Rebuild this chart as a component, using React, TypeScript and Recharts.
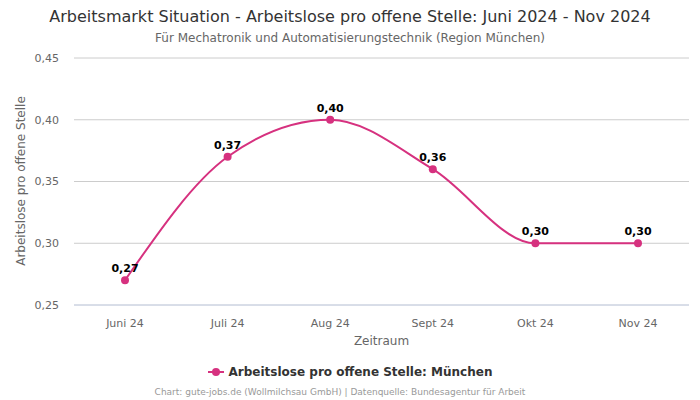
import React from 'react';
import { LineChart, Line, XAxis, YAxis, CartesianGrid, LabelList } from 'recharts';

const months = ['Juni 24', 'Juli 24', 'Aug 24', 'Sept 24', 'Okt 24', 'Nov 24'];
const values = [0.27, 0.37, 0.4, 0.36, 0.3, 0.3];
const yTicks = [0.25, 0.3, 0.35, 0.4, 0.45];

const data = months.map((m, i) => ({ month: m, value: values[i] }));

const COLOR = '#d6317f';
const FONT = '"DejaVu Sans", sans-serif';
const fmt = (v: number) => v.toFixed(2).replace('.', ',');

export default function App() {
  return (
    <div style={{ position: 'absolute', left: 0, top: 0, width: 700, height: 400, background: '#fff', fontFamily: FONT }}>
      <div style={{ position: 'absolute', top: 7, left: 0, width: 700, textAlign: 'center', fontSize: 16, color: '#333' }}>
        Arbeitsmarkt Situation - Arbeitslose pro offene Stelle: Juni 2024 - Nov 2024
      </div>
      <div style={{ position: 'absolute', top: 31, left: 0, width: 700, textAlign: 'center', fontSize: 12, color: '#666' }}>
        Für Mechatronik und Automatisierungstechnik (Region München)
      </div>
      <div style={{ position: 'absolute', left: 21, top: 181, width: 0, height: 0 }}>
        <div style={{ position: 'absolute', transform: 'translate(-50%, -50%) rotate(-90deg)', whiteSpace: 'nowrap', fontSize: 12, color: '#666' }}>
          Arbeitslose pro offene Stelle
        </div>
      </div>
      <div style={{ position: 'absolute', top: 334, left: 74, width: 615, textAlign: 'center', fontSize: 12, color: '#666' }}>
        Zeitraum
      </div>
      <div style={{ position: 'absolute', top: 365, left: 0, width: 700, display: 'flex', justifyContent: 'center', alignItems: 'center' }}>
        <svg width={16} height={10} style={{ marginRight: 5 }}>
          <line x1={0} y1={5} x2={16} y2={5} stroke={COLOR} strokeWidth={2} />
          <circle cx={8} cy={5} r={4} fill={COLOR} />
        </svg>
        <span style={{ fontSize: 12, fontWeight: 'bold', color: '#333' }}>Arbeitslose pro offene Stelle: München</span>
      </div>
      <div style={{ position: 'absolute', top: 387, left: 0, width: 680, textAlign: 'center', fontSize: 9, color: '#999' }}>
        Chart: gute-jobs.de (Wollmilchsau GmbH) | Datenquelle: Bundesagentur für Arbeit
      </div>
      <div style={{ position: 'absolute', left: 0, top: 0 }}>
        <LineChart width={700} height={400} data={data} margin={{ top: 58, right: 11, left: 0, bottom: 65 }}>
          <CartesianGrid vertical={false} stroke="#cccccc" />
          <XAxis
            dataKey="month"
            padding={{ left: 51, right: 51 }}
            axisLine={{ stroke: '#ccd6eb' }}
            tickLine={false}
            tick={{ fill: '#666', fontSize: 11, fontFamily: FONT }}
            tickMargin={8}
            height={30}
          />
          <YAxis
            domain={[0.25, 0.45]}
            ticks={yTicks}
            tickFormatter={fmt}
            axisLine={false}
            tickLine={false}
            tickMargin={9}
            width={74}
            tick={{ fill: '#666', fontSize: 11, fontFamily: FONT }}
          />
          <Line
            type="monotone"
            dataKey="value"
            stroke={COLOR}
            strokeWidth={2}
            dot={{ r: 4, fill: COLOR, stroke: 'none' }}
            activeDot={false}
            isAnimationActive={false}
          >
            <LabelList
              dataKey="value"
              position="top"
              offset={8}
              formatter={(v: number) => fmt(v)}
              style={{ fontSize: 11, fontWeight: 'bold', fill: '#000', fontFamily: FONT }}
            />
          </Line>
        </LineChart>
      </div>
    </div>
  );
}
